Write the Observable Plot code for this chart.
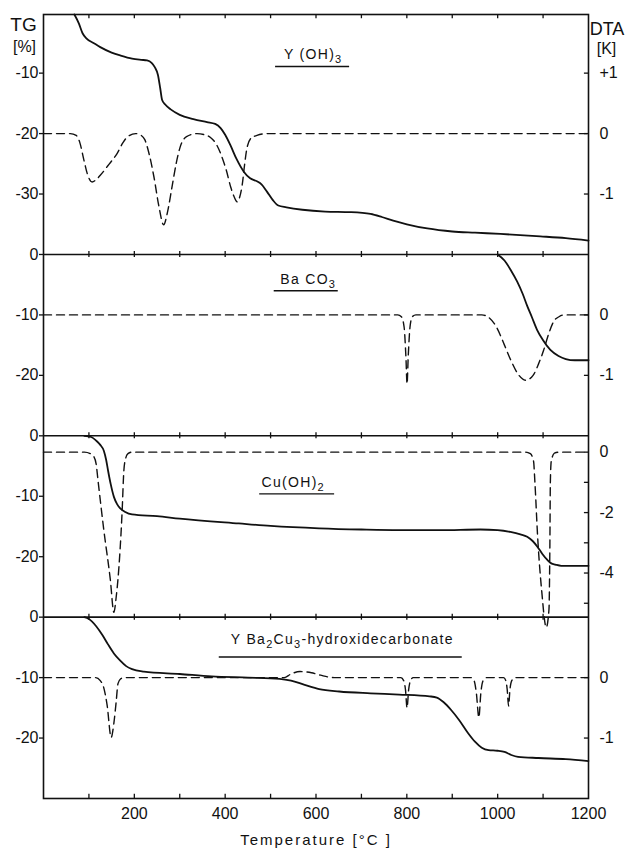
<!DOCTYPE html>
<html>
<head>
<meta charset="utf-8">
<script src="https://cdn.jsdelivr.net/npm/d3@7"></script>
<script src="https://cdn.jsdelivr.net/npm/@observablehq/plot@0.6"></script>
<style>
  html, body { margin: 0; padding: 0; background: #fff; }
  #chart svg { display: block; }
</style>
</head>
<body>
<div id="chart"></div>
<script>
// ---------- DATA (temperature °C, value) ----------
// Panel 1: Y(OH)3 — TG [%] and DTA [K]
const yoh3TG = [[68,-0.3],[78,-1.8],[86,-3.4],[95,-4.3],[110,-5.0],[125,-5.7],[150,-6.6],[170,-7.1],[195,-7.6],[215,-7.8],[228,-7.9],[238,-8.3],[245,-9.0],[252,-10.3],[257,-12.5],[261,-14.4],[268,-15.2],[280,-16.0],[300,-16.9],[330,-17.6],[360,-18.1],[378,-18.4],[390,-19.1],[400,-20.2],[412,-22.0],[425,-24.2],[441,-26.3],[455,-27.4],[470,-27.9],[480,-28.4],[492,-29.6],[505,-31.0],[517,-31.9],[535,-32.2],[570,-32.6],[620,-32.9],[676,-33.0],[720,-33.3],[745,-33.8],[770,-34.4],[800,-35.0],[845,-35.7],[900,-36.2],[950,-36.4],[1006,-36.6],[1094,-37.0],[1150,-37.3],[1200,-37.7]];
const yoh3DTA = [[0,0],[59,0],[72,-0.03],[80,-0.15],[89,-0.44],[98,-0.7],[107,-0.8],[115,-0.77],[125,-0.69],[145,-0.5],[162,-0.33],[175,-0.15],[184,-0.06],[203,0],[215,-0.03],[223,-0.1],[233,-0.35],[243,-0.71],[254,-1.2],[264.5,-1.51],[273,-1.3],[283,-0.88],[292,-0.5],[301,-0.22],[315,-0.05],[338,0],[355,-0.02],[367,-0.06],[380,-0.17],[390,-0.33],[403,-0.62],[412,-0.88],[420,-1.05],[426.5,-1.13],[432,-1.05],[437.5,-0.85],[443,-0.5],[448.5,-0.22],[458,-0.07],[470,-0.03],[492,0],[1200,0]];

// Panel 2: BaCO3
const baco3TG = [[1000,0],[1015,-1.0],[1029,-2.6],[1043,-4.5],[1055,-6.5],[1065,-8.5],[1075,-10.3],[1087,-12.5],[1100,-14.2],[1116,-15.8],[1134,-16.8],[1150,-17.3],[1170,-17.5],[1200,-17.5]];
const baco3DTA = [[0,0],[780,0],[788,-0.03],[794,-0.2],[798,-0.7],[800.5,-1.14],[803,-0.7],[807,-0.2],[812,-0.03],[820,0],[965,0],[980,-0.04],[998,-0.21],[1015,-0.5],[1029,-0.75],[1045,-0.98],[1062,-1.08],[1078,-1.0],[1090,-0.81],[1101,-0.59],[1112,-0.32],[1124,-0.1],[1135,-0.03],[1146,0],[1200,0]];

// Panel 3: Cu(OH)2
const cuoh2TG = [[90,0],[105,-0.2],[116,-0.8],[125,-1.5],[133,-2.5],[138,-4.0],[142,-5.7],[148,-8.0],[155,-10.1],[162,-11.3],[169,-12.0],[180,-12.6],[195,-13.0],[250,-13.3],[300,-13.7],[430,-14.5],[500,-14.9],[607,-15.3],[700,-15.5],[783,-15.6],[874,-15.6],[962,-15.5],[1000,-15.6],[1028,-15.9],[1050,-16.3],[1065,-16.7],[1077,-17.4],[1087,-18.3],[1098,-19.5],[1109,-20.5],[1118,-21.1],[1127,-21.3],[1140,-21.5],[1200,-21.5]];
const cuoh2DTA = [[0,0],[90,0],[103,-0.05],[111,-0.15],[116,-0.4],[120,-0.93],[133,-2.6],[147,-4.2],[155,-5.3],[160,-4.8],[164,-4.2],[173,-2.0],[177,-0.6],[181,-0.2],[186,-0.05],[195,0],[1061,0],[1072,-0.05],[1079,-0.3],[1082,-1.0],[1088,-2.8],[1097,-4.6],[1107,-5.8],[1113,-5.2],[1115,-3.0],[1116,-1.0],[1118,-0.3],[1125,-0.03],[1135,0],[1200,0]];

// Panel 4: YBa2Cu3-hydroxidecarbonate
const ybcTG = [[90,0],[100,-0.3],[116,-1.5],[130,-3.0],[142,-4.5],[155,-6.0],[169,-7.2],[182,-8.1],[195,-8.6],[221,-9.0],[300,-9.4],[370,-9.8],[450,-10.0],[520,-10.2],[545,-10.5],[575,-11.2],[607,-11.9],[651,-12.3],[720,-12.6],[783,-12.8],[850,-13.1],[866,-13.3],[880,-14.0],[898,-15.4],[915,-17.0],[935,-19.2],[950,-20.6],[965,-21.6],[980,-22.0],[1000,-22.1],[1015,-22.3],[1030,-22.8],[1045,-23.1],[1090,-23.3],[1150,-23.5],[1200,-23.8]];
const ybcDTA = [[0,0],[115,0],[125,-0.05],[132,-0.15],[140,-0.45],[149,-0.99],[155,-0.75],[160,-0.4],[164,-0.1],[170,-0.02],[177,0],[530,0],[545,0.06],[565,0.1],[590,0.08],[610,0.04],[640,0],[787,0],[793,-0.05],[797,-0.2],[800.5,-0.5],[804,-0.2],[808,-0.05],[814,0],[941,0],[948,-0.05],[953,-0.25],[958.6,-0.66],[963,-0.25],[968,-0.05],[976,0],[1013,0],[1018,-0.05],[1021,-0.2],[1024,-0.47],[1027,-0.2],[1031,-0.05],[1038,0],[1200,0]];

// Sample names
const sampleNames = ["Y (OH)₃", "Ba CO₃", "Cu(OH)₂", "Y Ba₂Cu₃-hydroxidecarbonate"];

// Tick labels
const xTickLabels = [200, 400, 600, 800, 1000, 1200];
const xMinorTicks = [100, 200, 300, 400, 500, 600, 700, 800, 900, 1000, 1100];
const tgTickLabels = [[-10, -20, -30, 0], [-10, -20, 0], [-10, -20, 0], [-10, -20]];
const dtaTickValues = [[1, 0, -1], [0, -1], [0, -1, -2, -3, -4, -5], [0, -1]];
const dtaTickLabels = [["+1", "0", "-1"], ["0", "-1"], ["0", "", "-2", "", "-4", ""], ["0", "-1"]];

// ---------- LAYOUT (stacked panels share one vertical scale) ----------
const panelTop = [0, -40, -70, -100];        // TG = 0 of each panel on the shared axis
const panelBottom = -130;
const dtaZero = [-20, -50, -72.7, -110];     // where DTA = 0 sits
const dtaUnit = [10, 10, 5, 10];             // shared-axis units per K

const tgSeries = [yoh3TG, baco3TG, cuoh2TG, ybcTG];
const dtaSeries = [yoh3DTA, baco3DTA, cuoh2DTA, ybcDTA];

const tgRows = tgSeries.flatMap((s, p) => s.map(([T, v]) => ({T, y: v + panelTop[p], panel: p})));
const dtaRows = dtaSeries.flatMap((s, p) => s.map(([T, v]) => ({T, y: dtaZero[p] + v * dtaUnit[p], panel: p})));

const leftTicks = tgTickLabels.flatMap((labs, p) => labs.map(v => ({pos: v === 0 ? panelTop[p + 1] : v + panelTop[p], label: String(v)})));
const rightTicks = dtaTickValues.flatMap((vals, p) => vals.map((v, i) => ({pos: dtaZero[p] + v * dtaUnit[p], label: dtaTickLabels[p][i]})));
const leftMap = new Map(leftTicks.map(d => [d.pos, d.label]));
const rightMap = new Map(rightTicks.map(d => [d.pos, d.label]));

const dividers = panelTop.slice(1);
const dividerTicks = dividers.flatMap(y => xMinorTicks.map(T => ({T, y})));

const titles = [
  {name: sampleNames[0], T: 594, y: -7.6, u: -8.9, x1: 511, x2: 674},
  {name: sampleNames[1], T: 583, y: -44.9, u: -46.0, x1: 508, x2: 649},
  {name: sampleNames[2], T: 550, y: -78.5, u: -79.6, x1: 476, x2: 641},
  {name: sampleNames[3], T: 658, y: -104.4, u: -106.6, x1: 387, x2: 922}
];

const FONT = "'Liberation Sans', Arial, sans-serif";
const ink = "#111";

const chart = Plot.plot({
  width: 625,
  height: 848,
  marginLeft: 43,
  marginRight: 37,
  marginTop: 14,
  marginBottom: 50,
  style: {fontFamily: FONT, fontSize: "16px", color: ink, background: "#fff", overflow: "visible"},
  x: {domain: [0, 1200]},
  y: {domain: [panelBottom, -0.3]},
  marks: [
    Plot.line(tgRows, {x: "T", y: "y", z: "panel", curve: "monotone-x", stroke: ink, strokeWidth: 1.8}),
    Plot.line(dtaRows, {x: "T", y: "y", z: "panel", curve: "monotone-x", stroke: ink, strokeWidth: 1.4, strokeDasharray: "8,5"}),
    Plot.frame({stroke: ink, strokeWidth: 1.6}),
    Plot.ruleY(dividers, {stroke: ink, strokeWidth: 1.6}),
    Plot.ruleX(dividerTicks, {x: "T", y1: d => d.y + 0.5, y2: d => d.y - 0.5, stroke: ink, strokeWidth: 1.3}),
    Plot.ruleX(xMinorTicks, {y1: -0.3, y2: -1.0, stroke: ink, strokeWidth: 1.3}),
    Plot.ruleX(xMinorTicks, {y1: panelBottom, y2: panelBottom + 0.7, stroke: ink, strokeWidth: 1.3}),
    Plot.ruleY(rightTicks, {y: "pos", x1: 1191, x2: 1200, stroke: ink, strokeWidth: 1.3}),
    Plot.axisY(leftTicks.map(d => d.pos), {anchor: "left", tickSize: 4, tickPadding: 1, tickFormat: d => leftMap.get(d), label: null, fontSize: 16, stroke: ink, strokeWidth: 1.3}),
    Plot.axisY(rightTicks.map(d => d.pos), {anchor: "right", tickSize: 0, tickPadding: 11, tickFormat: d => rightMap.get(d), label: null, fontSize: 16}),
    Plot.axisX(xTickLabels, {anchor: "bottom", tickSize: 0, tickPadding: 9, tickFormat: d => String(d), label: null, fontSize: 16}),
    Plot.text(["Temperature [°C ]"], {frameAnchor: "bottom", dy: 42, lineAnchor: "middle", fontSize: 15, fill: ink}),
    Plot.text(["TG"], {frameAnchor: "top-left", dx: -20, dy: 10, textAnchor: "middle", lineAnchor: "middle", fontSize: 19, fill: ink}),
    Plot.text(["[%]"], {frameAnchor: "top-left", dx: -19, dy: 32, textAnchor: "middle", lineAnchor: "middle", fontSize: 16, fill: ink}),
    Plot.text(["DTA"], {frameAnchor: "top-right", dx: 18.5, dy: 14.5, textAnchor: "middle", lineAnchor: "middle", fontSize: 18, fill: ink}),
    Plot.text(["[K]"], {frameAnchor: "top-right", dx: 18, dy: 34.5, textAnchor: "middle", lineAnchor: "middle", fontSize: 16, fill: ink}),
    Plot.text(titles, {x: "T", y: "y", text: "name", textAnchor: "middle", lineAnchor: "bottom", fontSize: 14, fill: ink}),
    Plot.ruleY(titles, {y: "u", x1: "x1", x2: "x2", stroke: ink, strokeWidth: 1.4})
  ]
});

// letter spacing and real subscripts for the sample names
const subDigits = {"₀":"0","₁":"1","₂":"2","₃":"3","₄":"4","₅":"5","₆":"6","₇":"7","₈":"8","₉":"9"};
d3.select(chart).selectAll("text").each(function() {
  const t = this.textContent;
  if (t.startsWith("Temperature")) this.setAttribute("letter-spacing", "2");
  if (sampleNames.includes(t)) {
    this.setAttribute("letter-spacing", "1.3");
    const runs = t.split(/([₀-₉]+)/).filter(s => s.length);
    this.textContent = "";
    let lowered = false;
    for (const r of runs) {
      const isSub = r[0] in subDigits;
      const ts = document.createElementNS("http://www.w3.org/2000/svg", "tspan");
      ts.textContent = isSub ? [...r].map(c => subDigits[c]).join("") : r;
      if (isSub) { ts.setAttribute("font-size", "11"); ts.setAttribute("dy", "4"); lowered = true; }
      else if (lowered) { ts.setAttribute("dy", "-4"); lowered = false; }
      this.appendChild(ts);
    }
  }
});

document.getElementById("chart").appendChild(chart);
</script>
</body>
</html>
